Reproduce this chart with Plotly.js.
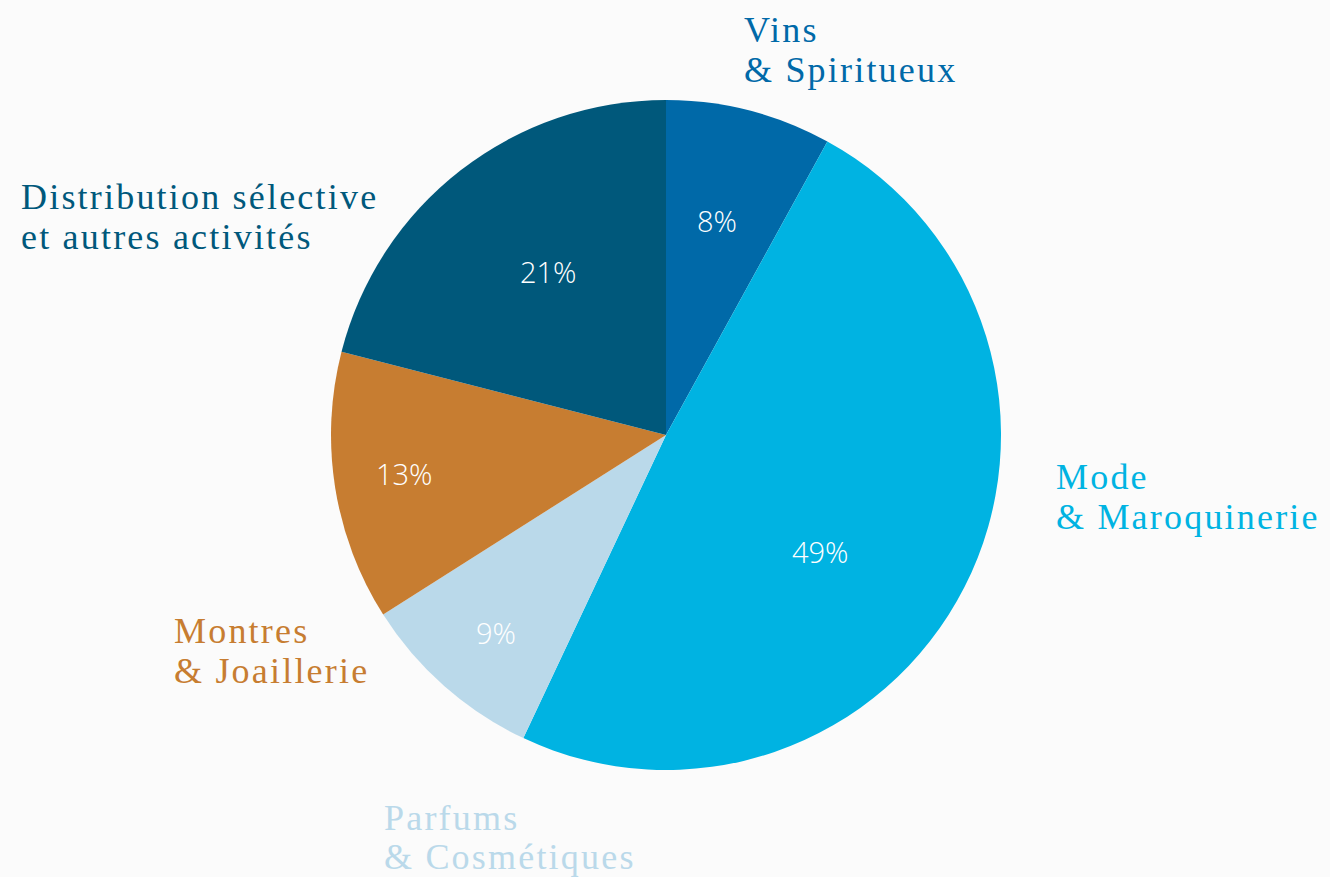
<!DOCTYPE html>
<html>
<head>
<meta charset="utf-8">
<script src="https://cdn.plot.ly/plotly-3.0.1.min.js"></script>
<style>
html,body{margin:0;padding:0;background:#fbfbfb;}
#chart{width:1330px;height:877px;}
.annotation-text[style*="Liberation Serif"]{letter-spacing:2.2px;}
</style>
</head>
<body>
<div id="chart"></div>
<script>
// Data
const categories = ["Vins & Spiritueux", "Mode & Maroquinerie", "Parfums & Cosmétiques", "Montres & Joaillerie", "Distribution sélective et autres activités"];
const labelLine1 = ["Vins", "Mode", "Parfums", "Montres", "Distribution sélective"];
const labelLine2 = ["& Spiritueux", "& Maroquinerie", "& Cosmétiques", "& Joaillerie", "et autres activités"];
const shares = [8, 49, 9, 13, 21];
const colors = ["#0069a8", "#00b3e2", "#bad9ea", "#c77d31", "#00587b"];

// Layout helpers (pixel positions of text)
const W = 1330, H = 877;
const pctPos = [[717, 220], [820, 551], [496, 632], [404, 474], [548, 271]];
const labelPos = [[742, 30, 70], [1054, 477, 517], [382, 818, 857], [172, 631, 671], [19, 197, 237]];

const annotations = [];
shares.forEach((v, i) => {
  annotations.push({
    x: pctPos[i][0] / W, y: 1 - pctPos[i][1] / H, xref: "paper", yref: "paper",
    text: v + "%", showarrow: false, xanchor: "center", yanchor: "middle",
    font: {family: "Open Sans, Lato, sans-serif", size: 29, color: "#ffffff", weight: 300}
  });
  [labelLine1[i], labelLine2[i]].forEach((t, k) => {
    annotations.push({
      x: labelPos[i][0] / W, y: 1 - labelPos[i][1 + k] / H, xref: "paper", yref: "paper",
      text: t, showarrow: false, xanchor: "left", yanchor: "middle",
      font: {family: "Liberation Serif, serif", size: 36, color: colors[i]}
    });
  });
});

const cx = 666, cy = 435, r = 335;
const trace = {
  type: "pie",
  labels: categories,
  values: shares,
  sort: false,
  direction: "clockwise",
  rotation: 0,
  marker: {colors: colors, line: {width: 0}},
  textinfo: "none",
  hoverinfo: "label+percent",
  showlegend: false,
  domain: {x: [(cx - r) / W, (cx + r) / W], y: [(H - cy - r) / H, (H - cy + r) / H]}
};

Plotly.newPlot("chart", [trace], {
  width: W, height: H,
  margin: {l: 0, r: 0, t: 0, b: 0},
  paper_bgcolor: "#fbfbfb",
  plot_bgcolor: "#fbfbfb",
  showlegend: false,
  annotations: annotations
}, {displayModeBar: false, staticPlot: true});
</script>
</body>
</html>
